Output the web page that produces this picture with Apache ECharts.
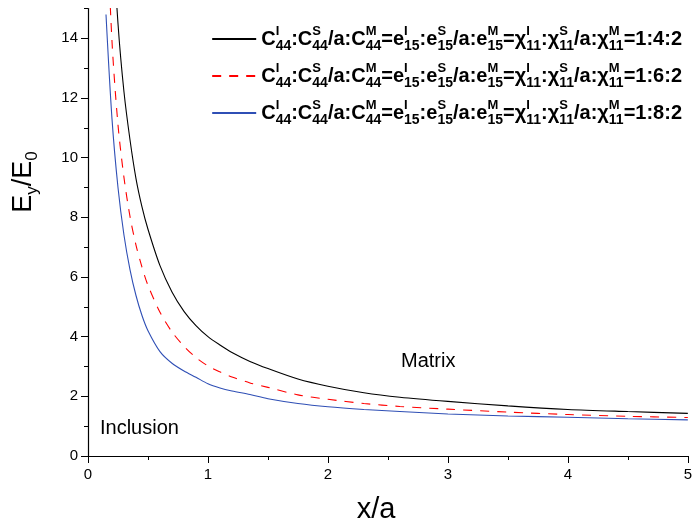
<!DOCTYPE html>
<html><head><meta charset="utf-8">
<script src="https://cdn.jsdelivr.net/npm/echarts@6/dist/echarts.min.js"></script>
<style>html,body{margin:0;padding:0;background:#fff}#c{width:695px;height:528px}</style>
</head><body><div id="c"></div>
<script>
// x/a positions (shared by all three curves)
const xValues = [0.15, 0.2, 0.25, 0.3, 0.35, 0.4, 0.45, 0.5, 0.6, 0.7, 0.8, 0.9, 1.0, 1.1, 1.2, 1.35, 1.5, 1.75, 2.0, 2.3, 2.6, 3.0, 3.5, 4.0, 4.5, 5.0];
// Ey/E0 (values above 15 are outside the visible window)
const ratio142 = [23.6, 18.0, 14.5, 12.2, 10.6, 9.3, 8.35, 7.6, 6.38, 5.5, 4.85, 4.37, 4.0, 3.72, 3.47, 3.17, 2.93, 2.58, 2.34, 2.12, 1.97, 1.83, 1.68, 1.56, 1.49, 1.43];
const ratio162 = [18.5, 13.9, 11.1, 9.33, 8.03, 7.07, 6.33, 5.72, 4.82, 4.16, 3.68, 3.3, 3.02, 2.82, 2.65, 2.45, 2.3, 2.05, 1.9, 1.76, 1.66, 1.57, 1.47, 1.39, 1.33, 1.29];
const ratio182 = [14.8, 11.3, 9.0, 7.4, 6.25, 5.38, 4.71, 4.2, 3.5, 3.11, 2.85, 2.64, 2.42, 2.28, 2.18, 2.06, 1.92, 1.76, 1.65, 1.56, 1.49, 1.41, 1.34, 1.30, 1.25, 1.21];
const ratioNames = ['1:4:2', '1:6:2', '1:8:2'];
const xTickValues = [0, 1, 2, 3, 4, 5];
const yTickValues = [0, 2, 4, 6, 8, 10, 12, 14];
const annotations = ['Matrix', 'Inclusion'];

const FONT = "'Liberation Sans', Arial, Helvetica, sans-serif";
const colors = ['#000000', '#ff0000', '#2f4fb5'];
const lineTypes = ['solid', [9, 8], 'solid'];
const allY = [ratio142, ratio162, ratio182];

function legendRich(r) {
  return '{m|C}{p|I}{b|44}{m|:C}{p|S}{b|44}{m|/a:C}{p|M}{b|44}' +
         '{m|=e}{p|I}{b|15}{m|:e}{p|S}{b|15}{m|/a:e}{p|M}{b|15}' +
         '{m|=\u03c7}{p|I}{b|11}{m|:\u03c7}{p|S}{b|11}{m|/a:\u03c7}{p|M}{b|11}{m|=' + r + '}';
}

const chart = echarts.init(document.getElementById('c'), null, {renderer: 'canvas'});
const option = {
  backgroundColor: '#ffffff',
  animation: false,
  grid: {left: 88, right: 7, top: 8.5, bottom: 72, containLabel: false},
  legend: {
    orient: 'vertical', right: 8, top: 20,
    itemWidth: 44, itemHeight: 12, itemGap: 9,
    data: ratioNames,
    itemStyle: {opacity: 0},
    formatter: function (name) { return legendRich(name); },
    textStyle: {
      rich: {
        m: {fontFamily: FONT, fontSize: 20, fontWeight: 'bold', color: '#000', lineHeight: 28, verticalAlign: 'middle'},
        p: {fontFamily: FONT, fontSize: 13, fontWeight: 'bold', color: '#000', width: 0.001, verticalAlign: 'top', lineHeight: 28},
        b: {fontFamily: FONT, fontSize: 14, fontWeight: 'bold', color: '#000', verticalAlign: 'bottom', lineHeight: 28}
      }
    }
  },
  xAxis: {
    type: 'value', min: 0, max: 5, interval: 1,
    axisLine: {lineStyle: {color: '#000', width: 1.2}},
    axisTick: {show: true, inside: false, length: 7, lineStyle: {color: '#000', width: 1}},
    minorTick: {show: true, splitNumber: 2, length: 4, lineStyle: {color: '#000', width: 1}},
    axisLabel: {margin: 11, fontSize: 15, color: '#000', fontFamily: FONT,
      formatter: function (v) { return xTickValues.indexOf(v) >= 0 ? String(v) : ''; }},
    splitLine: {show: false}, minorSplitLine: {show: false}
  },
  yAxis: [{
    type: 'value', min: 0, max: 15, interval: 2, position: 'left',
    axisLine: {show: true, lineStyle: {color: '#000', width: 1.2}},
    axisTick: {show: true, inside: false, length: 7, customValues: yTickValues, lineStyle: {color: '#000', width: 1}},
    axisLabel: {margin: 10, fontSize: 15, color: '#000', fontFamily: FONT, customValues: yTickValues,
      formatter: function (v) { return yTickValues.indexOf(v) >= 0 ? String(v) : ''; }},
    splitLine: {show: false}
  }, {
    type: 'value', min: 0, max: 15, interval: 1, position: 'left',
    axisLine: {show: false},
    axisTick: {show: true, inside: false, length: 4, lineStyle: {color: '#000', width: 1}},
    axisLabel: {show: false},
    splitLine: {show: false}
  }],
  series: ratioNames.map(function (name, i) {
    return {
      name: name, type: 'line', yAxisIndex: 0,
      data: xValues.map(function (x, j) { return [x, allY[i][j]]; }),
      symbol: 'none', smooth: 0.3, clip: true,
      lineStyle: {color: colors[i], width: 1.1, type: lineTypes[i]},
      itemStyle: {color: colors[i]}
    };
  }),
  graphic: [
    {type: 'text', x: 24, y: 182, rotation: Math.PI / 2,
      style: {text: '{m|E}{s|y}{m|/E}{s|0}', align: 'center', verticalAlign: 'middle',
        rich: {
          m: {fontFamily: FONT, fontSize: 27, color: '#000', lineHeight: 34, verticalAlign: 'middle'},
          s: {fontFamily: FONT, fontSize: 17, color: '#000', lineHeight: 34, verticalAlign: 'bottom'}
        }}},
    {type: 'text', x: 376, y: 510, style: {text: 'x/a', fontFamily: FONT, fontSize: 29, fill: '#000', align: 'center', verticalAlign: 'middle'}},
    {type: 'text', x: 401, y: 361, style: {text: annotations[0], fontFamily: FONT, fontSize: 20, fill: '#000', align: 'left', verticalAlign: 'middle'}},
    {type: 'text', x: 100, y: 428, style: {text: annotations[1], fontFamily: FONT, fontSize: 20, fill: '#000', align: 'left', verticalAlign: 'middle'}}
  ]
};
chart.setOption(option);
</script>
</body></html>
